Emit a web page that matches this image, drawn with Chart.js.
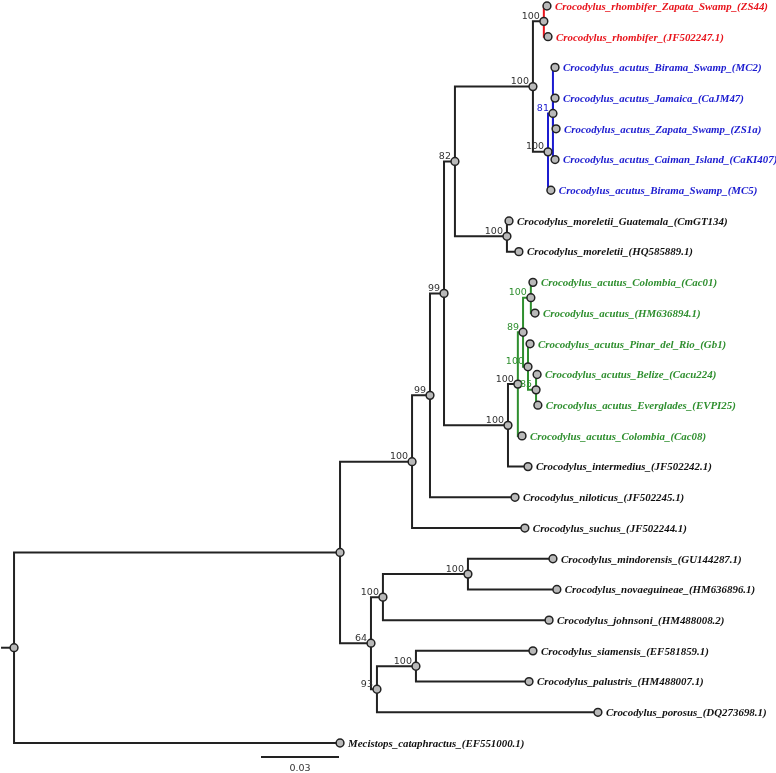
<!DOCTYPE html>
<html>
<head>
    <title>Crocodylus phylogeny</title>
    <script src="https://cdn.jsdelivr.net/npm/chart.js@4/dist/chart.umd.min.js"></script>
    <style>
        body { margin: 0; background: #fff; }
        #wrap { width: 776px; height: 773px; position: relative; }
    </style>
</head>
<body>
    <div id="wrap"><canvas id="treeChart"></canvas></div>

    <script>
        // tips, top to bottom
        var leafNames = [
            'Crocodylus_rhombifer_Zapata_Swamp_(ZS44)',
            'Crocodylus_rhombifer_(JF502247.1)',
            'Crocodylus_acutus_Birama_Swamp_(MC2)',
            'Crocodylus_acutus_Jamaica_(CaJM47)',
            'Crocodylus_acutus_Zapata_Swamp_(ZS1a)',
            'Crocodylus_acutus_Caiman_Island_(CaKI407)',
            'Crocodylus_acutus_Birama_Swamp_(MC5)',
            'Crocodylus_moreletii_Guatemala_(CmGT134)',
            'Crocodylus_moreletii_(HQ585889.1)',
            'Crocodylus_acutus_Colombia_(Cac01)',
            'Crocodylus_acutus_(HM636894.1)',
            'Crocodylus_acutus_Pinar_del_Rio_(Gb1)',
            'Crocodylus_acutus_Belize_(Cacu224)',
            'Crocodylus_acutus_Everglades_(EVPI25)',
            'Crocodylus_acutus_Colombia_(Cac08)',
            'Crocodylus_intermedius_(JF502242.1)',
            'Crocodylus_niloticus_(JF502245.1)',
            'Crocodylus_suchus_(JF502244.1)',
            'Crocodylus_mindorensis_(GU144287.1)',
            'Crocodylus_novaeguineae_(HM636896.1)',
            'Crocodylus_johnsoni_(HM488008.2)',
            'Crocodylus_siamensis_(EF581859.1)',
            'Crocodylus_palustris_(HM488007.1)',
            'Crocodylus_porosus_(DQ273698.1)',
            'Mecistops_cataphractus_(EF551000.1)'
        ];
        // distance from root (subst./site)
        var leafDepth = [
            0.2050, 0.2054, 0.2081, 0.2081, 0.2085, 0.2081, 0.2065,
            0.1904, 0.1942,
            0.1996, 0.2004, 0.1985, 0.2012, 0.2015, 0.1954,
            0.1977, 0.1927, 0.1965,
            0.2073, 0.2088, 0.2058, 0.1996, 0.1981, 0.2246,
            0.1254
        ];
        var leafParent = [7, 7, 9, 9, 9, 9, 8, 10, 10, 14, 14, 15, 16, 16, 12, 11, 3, 2, 19, 19, 18, 21, 21, 20, 0];

        // internal nodes
        var nodeDepth = [
            0, 0.1254, 0.1531, 0.1600, 0.1654, 0.1696, 0.1996, 0.2038, 0.2054, 0.2073, 0.1896,
            0.1900, 0.1938, 0.1958, 0.1988, 0.1977, 0.2008,
            0.1373, 0.1419, 0.1746, 0.1396, 0.1546
        ];
        var nodeParent = [-1, 0, 1, 2, 3, 4, 5, 6, 6, 8, 5, 4, 11, 12, 13, 13, 15, 1, 17, 18, 17, 20];
        var nodeSupport = ['', '', '100', '99', '99', '82', '100', '100', '100', '81', '100',
            '100', '100', '89', '100', '100', '85', '64', '100', '100', '93', '100'];

        var cladeRoots = [7, 8, 12];
        var cladeColors = ['#e8141c', '#1c1cd0', '#2f8f2f'];

        var scaleBarStart = 0.095;
        var scaleBarLength = 0.03;
        var scaleBarLabel = '0.03';

        // --- layout ---
        var leafY = leafNames.map(function (n, i) { return i; });
        var nodeY = [];
        var nodeColor = [];
        function childYs(k) {
            var ys = [];
            leafParent.forEach(function (p, i) { if (p === k) ys.push(leafY[i]); });
            nodeParent.forEach(function (p, i) { if (p === k) ys.push(getNodeY(i)); });
            return ys;
        }
        function getNodeY(k) {
            if (nodeY[k] === undefined) {
                var ys = childYs(k);
                nodeY[k] = (Math.min.apply(null, ys) + Math.max.apply(null, ys)) / 2;
            }
            return nodeY[k];
        }
        function getNodeColor(k) {
            if (nodeColor[k] === undefined) {
                var c = cladeRoots.indexOf(k);
                if (c >= 0) nodeColor[k] = cladeColors[c];
                else if (nodeParent[k] < 0) nodeColor[k] = '#222';
                else nodeColor[k] = getNodeColor(nodeParent[k]);
            }
            return nodeColor[k];
        }
        nodeDepth.forEach(function (d, k) { getNodeY(k); getNodeColor(k); });

        var datasets = [];
        var nodePoints = [];
        nodeDepth.forEach(function (d, k) { nodePoints.push({x: d, y: nodeY[k]}); });
        leafDepth.forEach(function (d, i) { nodePoints.push({x: d, y: leafY[i]}); });
        datasets.push({
            data: nodePoints,
            showLine: false,
            pointRadius: 3.9,
            pointBackgroundColor: '#b9b9b9',
            pointBorderColor: '#222',
            pointBorderWidth: 1.5,
            clip: false
        });

        function addEdge(parent, cx, cy) {
            var px = nodeDepth[parent], py = nodeY[parent];
            datasets.push({
                data: [{x: px, y: py}, {x: px, y: cy}, {x: cx, y: cy}],
                showLine: true,
                pointRadius: 0,
                borderColor: nodeColor[parent],
                borderWidth: 2,
                tension: 0,
                clip: false
            });
        }
        nodeParent.forEach(function (p, k) { if (p >= 0) addEdge(p, nodeDepth[k], nodeY[k]); });
        leafParent.forEach(function (p, i) { addEdge(p, leafDepth[i], leafY[i]); });

        // root stub and scale bar
        datasets.push({
            data: [{x: -0.0050, y: nodeY[0]}, {x: 0, y: nodeY[0]}],
            showLine: true, pointRadius: 0, borderColor: '#222', borderWidth: 2, clip: false
        });
        var barY = 24.456;
        datasets.push({
            data: [{x: scaleBarStart, y: barY}, {x: scaleBarStart + scaleBarLength, y: barY}],
            showLine: true, pointRadius: 0, borderColor: '#222', borderWidth: 2, clip: false
        });

        var treeText = {
            id: 'treeText',
            afterDatasetsDraw: function (chart) {
                var ctx = chart.ctx;
                var xs = chart.scales.x, ys = chart.scales.y;
                ctx.save();
                ctx.font = 'bold italic 10.9px "Liberation Serif"';
                ctx.textAlign = 'left';
                ctx.textBaseline = 'middle';
                leafNames.forEach(function (name, i) {
                    ctx.fillStyle = nodeColor[leafParent[i]] === '#222' ? '#111' : nodeColor[leafParent[i]];
                    ctx.fillText(name, xs.getPixelForValue(leafDepth[i]) + 8, ys.getPixelForValue(leafY[i]) + 1);
                });
                ctx.font = '9.5px "DejaVu Sans"';
                ctx.textAlign = 'right';
                ctx.textBaseline = 'alphabetic';
                nodeSupport.forEach(function (s, k) {
                    if (!s) return;
                    var c = nodeColor[nodeParent[k]];
                    ctx.fillStyle = c === '#222' ? '#333' : c;
                    ctx.fillText(s, xs.getPixelForValue(nodeDepth[k]) - 4, ys.getPixelForValue(nodeY[k]) - 2.5);
                });
                ctx.textAlign = 'center';
                ctx.fillStyle = '#333';
                ctx.fillText(scaleBarLabel, xs.getPixelForValue(scaleBarStart + scaleBarLength / 2), ys.getPixelForValue(barY) + 14);
                ctx.restore();
            }
        };

        new Chart(document.getElementById('treeChart'), {
            type: 'scatter',
            data: { datasets: datasets },
            options: {
                responsive: true,
                maintainAspectRatio: false,
                animation: false,
                layout: { padding: 0, autoPadding: false },
                plugins: { legend: { display: false }, tooltip: { enabled: false } },
                scales: {
                    x: { type: 'linear', display: false, min: -0.0054, max: 0.2931 },
                    y: { type: 'linear', display: false, reverse: true, min: -0.195, max: 24.977 }
                }
            },
            plugins: [treeText]
        });
    </script>
</body>
</html>
